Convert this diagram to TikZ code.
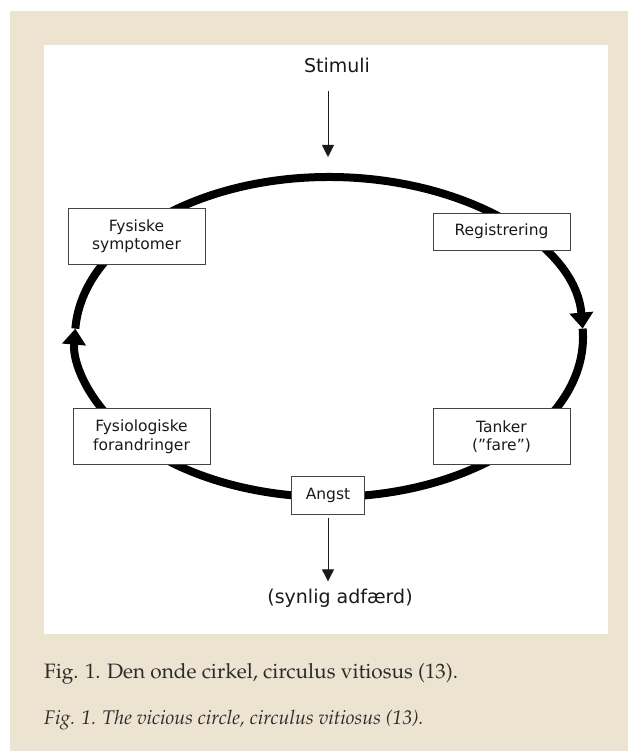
\documentclass[tikz,border=0pt]{standalone}
\usepackage[T1]{fontenc}
\usepackage{fontspec}
\setsansfont{DejaVu Sans}
\usetikzlibrary{arrows.meta,positioning}

\definecolor{paper}{HTML}{ECE3D0}
\definecolor{ink}{HTML}{1A1A1A}
\definecolor{boxline}{HTML}{444444}
\definecolor{captionink}{HTML}{2B2B2B}

\newcommand{\palfont}{\fontencoding{T1}\fontfamily{ppl}\selectfont}

\tikzset{
	stage/.style={draw=boxline, line width=0.9pt, fill=white, align=center,
		font=\sffamily\fontsize{15.5}{18.5}\selectfont, text=ink,
		minimum width=137pt, minimum height=56pt, inner sep=0pt},
	outside/.style={font=\sffamily\fontsize{19}{22}\selectfont, text=ink, inner sep=0pt},
	feed/.style={draw=ink, line width=0.9pt, -{Triangle[width=12pt,length=12pt]}},
	loopline/.style={draw=black, line width=8pt},
	looptip/.style={-{Triangle[width=23pt,length=16pt]}},
	caption/.style={text=captionink, inner sep=0pt, anchor=base west}
}

\begin{document}
\begin{tikzpicture}[x=1pt,y=1pt]

	% ---- page

	\useasboundingbox (0,0) rectangle (628,751);
	\fill[paper] (10,0) rectangle (628,740);
	\fill[white] (44,117) rectangle (608,706);

	% ---- parameters

	\def\cx{329}
	\def\cy{414}
	\def\rx{254}
	\def\ry{160}

	% ---- coordinates

	\coordinate (ctop) at (\cx,\cy+\ry);
	\coordinate (stimtip) at (328,594);

	% ---- the circle

	\draw[loopline, looptip] (ctop)
		arc[start angle=90, end angle=3, x radius=\rx, y radius=\ry];
	\draw[loopline, looptip] ({\cx+\rx*cos(3)},{\cy+\ry*sin(3)})
		arc[start angle=3, end angle=-183, x radius=\rx, y radius=\ry];
	\draw[loopline] ({\cx+\rx*cos(-183)},{\cy+\ry*sin(-183)})
		arc[start angle=-183, end angle=-270, x radius=\rx, y radius=\ry];

	% ---- stages

	\node[stage] (symptoms) at (136.5,515) {Fysiske\\symptomer};
	\node[stage, minimum height=37pt] (registration) at (501.5,519.5) {Registrering};
	\node[stage] (thoughts) at (501.5,314.5) {Tanker\\(”fare”)};
	\node[stage] (changes) at (141.5,314.5) {Fysiologiske\\forandringer};
	\node[stage, minimum width=73pt, minimum height=38pt] (anxiety) at (328,256) {Angst};

	% ---- in and out

	\node[outside, anchor=base] (stimuli) at (337,678) {Stimuli};
	\node[outside, anchor=base] (behaviour) at (340,147) {(synlig adfærd)};

	\draw[feed, shorten <=18pt] (stimuli.south -| stimtip) -- (stimtip);
	\draw[feed, shorten <=4pt, shorten >=8pt] (anxiety) -- (anxiety |- behaviour.north);

	% ---- captions

	\node[caption, font=\palfont\fontsize{20.8}{24}\selectfont] (captionda) at (44,72)
		{Fig. 1. Den onde cirkel, circulus vitiosus (13).};
	\node[caption, font=\palfont\itshape\fontsize{19.7}{24}\selectfont] (captionen) at (44,26)
		{Fig. 1. The vicious circle, circulus vitiosus (13).};

\end{tikzpicture}
\end{document}
